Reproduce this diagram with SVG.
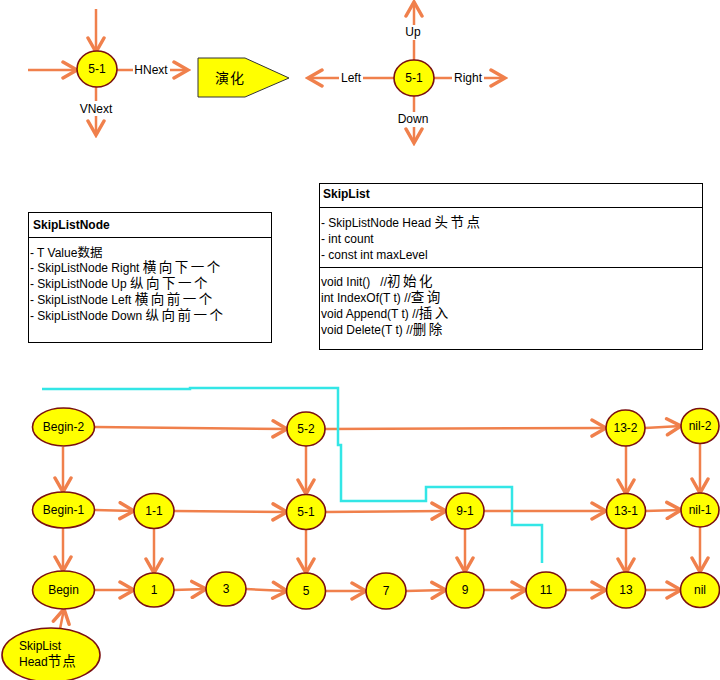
<svg xmlns="http://www.w3.org/2000/svg" width="720" height="680" viewBox="0 0 720 680">
<defs>
<marker id="ah" markerUnits="userSpaceOnUse" markerWidth="20" markerHeight="20" viewBox="0 0 20 20" refX="17" refY="10" orient="auto">
<path d="M3,2 L17,10 L3,18" fill="none" stroke="#F0804C" stroke-width="3.5" stroke-linejoin="miter" stroke-linecap="round"/>
</marker>
</defs>
<style>
.nd{fill:#FFFF00;stroke:#7A1010;stroke-width:1.6}
.t{font-family:"Liberation Sans","Noto Sans CJK SC",sans-serif;font-size:12px;fill:#000}
.c{text-anchor:middle}
.b{font-weight:bold}
.cj{font-size:13.5px;letter-spacing:2.5px}
.ln{fill:none;stroke:#F0804C;stroke-width:2.5;marker-end:url(#ah)}
.bx{fill:#fff;stroke:#000;stroke-width:1}
.lbg{fill:#fff}
</style>
<rect width="720" height="680" fill="#fff"/>

<g id="connectors">
<!-- top-left legend -->
<line class="ln" x1="96" y1="9" x2="96" y2="52"/>
<line class="ln" x1="28" y1="70" x2="77" y2="70"/>
<line class="ln" x1="117" y1="70" x2="188" y2="70"/>
<line class="ln" x1="96" y1="87" x2="96" y2="135"/>
<rect class="lbg" x="133" y="62" width="37" height="15"/>
<text class="t c" x="151" y="74">HNext</text>
<rect class="lbg" x="78" y="101" width="36" height="15"/>
<text class="t c" x="96" y="113">VNext</text>
<!-- top-right legend -->
<line class="ln" x1="394" y1="78" x2="308" y2="78"/>
<line class="ln" x1="434" y1="78" x2="505" y2="78"/>
<line class="ln" x1="414" y1="60" x2="414" y2="2"/>
<line class="ln" x1="414" y1="96" x2="414" y2="143"/>
<rect class="lbg" x="339" y="71" width="24" height="15"/>
<text class="t c" x="351" y="82">Left</text>
<rect class="lbg" x="452" y="71" width="32" height="15"/>
<text class="t c" x="468" y="82">Right</text>
<rect class="lbg" x="403" y="25" width="21" height="15"/>
<text class="t c" x="413" y="36">Up</text>
<rect class="lbg" x="396" y="112" width="35" height="15"/>
<text class="t c" x="413" y="123">Down</text>

<!-- skip list graph -->
<line class="ln" x1="95" y1="427" x2="287" y2="429"/>
<line class="ln" x1="325" y1="429" x2="606" y2="428"/>
<line class="ln" x1="645" y1="428" x2="681" y2="426"/>
<line class="ln" x1="63" y1="447" x2="63" y2="492"/>
<line class="ln" x1="306" y1="446" x2="306" y2="494"/>
<line class="ln" x1="626" y1="446" x2="626" y2="494"/>
<line class="ln" x1="700" y1="444" x2="700" y2="493"/>
<line class="ln" x1="95" y1="510" x2="134" y2="511"/>
<line class="ln" x1="174" y1="511" x2="287" y2="512"/>
<line class="ln" x1="326" y1="512" x2="446" y2="511"/>
<line class="ln" x1="484" y1="511" x2="606" y2="511"/>
<line class="ln" x1="645" y1="511" x2="681" y2="510"/>
<line class="ln" x1="63" y1="528" x2="63" y2="571"/>
<line class="ln" x1="154" y1="528" x2="154" y2="573"/>
<line class="ln" x1="306" y1="529" x2="306" y2="573"/>
<line class="ln" x1="465" y1="529" x2="465" y2="572"/>
<line class="ln" x1="626" y1="529" x2="626" y2="573"/>
<line class="ln" x1="700" y1="527" x2="700" y2="572"/>
<line class="ln" x1="95" y1="590" x2="134" y2="590"/>
<line class="ln" x1="174" y1="590" x2="206" y2="589"/>
<line class="ln" x1="246" y1="589" x2="287" y2="591"/>
<line class="ln" x1="326" y1="591" x2="366" y2="591"/>
<line class="ln" x1="406" y1="591" x2="446" y2="590"/>
<line class="ln" x1="484" y1="590" x2="526" y2="590"/>
<line class="ln" x1="566" y1="590" x2="606" y2="590"/>
<line class="ln" x1="645" y1="590" x2="681" y2="590"/>
<line class="ln" x1="60" y1="629" x2="64" y2="609"/>
<!-- cyan path -->
<polyline points="42,389 190,389 190,388 338,388 338,445 341,445 341,501 426,501 426,487 512,487 512,525 542,525 542,563" fill="none" stroke="#33E6E6" stroke-width="2.5"/>
</g>

<g id="legend-node-1"><ellipse class="nd" cx="97" cy="69" rx="20" ry="18"/><text class="t c" x="97" y="73">5-1</text></g>
<g id="evolve"><polygon points="198,58 245,58 289,78 245,97 198,97" fill="#FFFF00" stroke="#333" stroke-width="1"/><text class="t" x="215" y="83" style="font-size:14px;letter-spacing:1px">演化</text></g>
<g id="legend-node-2"><ellipse class="nd" cx="414" cy="78" rx="20" ry="18"/><text class="t c" x="414" y="82">5-1</text></g>

<g id="class-skiplistnode">
<rect class="bx" x="28.5" y="212.5" width="243" height="130"/>
<line x1="28.5" y1="237.5" x2="271.5" y2="237.5" stroke="#000"/>
<text class="t b" x="33" y="229">SkipListNode</text>
<text class="t" x="30" y="257">- T Value<tspan style="font-size:12.5px">数据</tspan></text>
<text class="t" x="30" y="272">- SkipListNode Right <tspan class="cj">横向下一个</tspan></text>
<text class="t" x="30" y="288">- SkipListNode Up <tspan class="cj">纵向下一个</tspan></text>
<text class="t" x="30" y="304">- SkipListNode Left <tspan class="cj">横向前一个</tspan></text>
<text class="t" x="30" y="320">- SkipListNode Down <tspan class="cj">纵向前一个</tspan></text>
</g>

<g id="class-skiplist">
<rect class="bx" x="319.5" y="183.5" width="383" height="166"/>
<line x1="319.5" y1="207.5" x2="702.5" y2="207.5" stroke="#000"/>
<line x1="319.5" y1="267.5" x2="702.5" y2="267.5" stroke="#000"/>
<text class="t b" x="323" y="198">SkipList</text>
<text class="t" x="321" y="227">- SkipListNode Head <tspan class="cj">头节点</tspan></text>
<text class="t" x="321" y="243">- int count</text>
<text class="t" x="321" y="259">- const int maxLevel</text>
<text class="t" x="321" y="286" xml:space="preserve">void Init()   //<tspan class="cj">初始化</tspan></text>
<text class="t" x="321" y="302">int IndexOf(T t) //<tspan class="cj">查询</tspan></text>
<text class="t" x="321" y="318">void Append(T t) //<tspan class="cj">插入</tspan></text>
<text class="t" x="321" y="334">void Delete(T t) //<tspan class="cj">删除</tspan></text>
</g>

<g id="n-begin-2"><ellipse class="nd" cx="63.5" cy="427" rx="31" ry="19"/><text class="t c" x="63.5" y="431">Begin-2</text></g>
<g id="n-5-2"><ellipse class="nd" cx="306" cy="429" rx="19" ry="17"/><text class="t c" x="306" y="433">5-2</text></g>
<g id="n-13-2"><ellipse class="nd" cx="625.5" cy="428" rx="19.5" ry="18"/><text class="t c" x="625.5" y="432">13-2</text></g>
<g id="n-nil-2"><ellipse class="nd" cx="700" cy="426" rx="19" ry="17.5"/><text class="t c" x="700" y="430">nil-2</text></g>

<g id="n-begin-1"><ellipse class="nd" cx="63.5" cy="510" rx="31" ry="18"/><text class="t c" x="63.5" y="514">Begin-1</text></g>
<g id="n-1-1"><ellipse class="nd" cx="154" cy="511" rx="20" ry="17.5"/><text class="t c" x="154" y="515">1-1</text></g>
<g id="n-5-1"><ellipse class="nd" cx="306" cy="512" rx="19.5" ry="17.5"/><text class="t c" x="306" y="516">5-1</text></g>
<g id="n-9-1"><ellipse class="nd" cx="465" cy="511" rx="19" ry="18"/><text class="t c" x="465" y="515">9-1</text></g>
<g id="n-13-1"><ellipse class="nd" cx="626" cy="511" rx="19.5" ry="17.5"/><text class="t c" x="626" y="515">13-1</text></g>
<g id="n-nil-1"><ellipse class="nd" cx="700" cy="510" rx="19" ry="17"/><text class="t c" x="700" y="514">nil-1</text></g>

<g id="n-begin"><ellipse class="nd" cx="63.5" cy="590" rx="31" ry="19"/><text class="t c" x="63.5" y="594">Begin</text></g>
<g id="n-1"><ellipse class="nd" cx="154" cy="590" rx="20" ry="17"/><text class="t c" x="154" y="594">1</text></g>
<g id="n-3"><ellipse class="nd" cx="226" cy="589" rx="20" ry="17"/><text class="t c" x="226" y="593">3</text></g>
<g id="n-5"><ellipse class="nd" cx="306" cy="591" rx="19.5" ry="18"/><text class="t c" x="306" y="595">5</text></g>
<g id="n-7"><ellipse class="nd" cx="386" cy="591" rx="20" ry="18"/><text class="t c" x="386" y="595">7</text></g>
<g id="n-9"><ellipse class="nd" cx="465" cy="590" rx="19" ry="18"/><text class="t c" x="465" y="594">9</text></g>
<g id="n-11"><ellipse class="nd" cx="546" cy="590" rx="20" ry="18"/><text class="t c" x="546" y="594">11</text></g>
<g id="n-13"><ellipse class="nd" cx="626" cy="590" rx="19.5" ry="18"/><text class="t c" x="626" y="594">13</text></g>
<g id="n-nil"><ellipse class="nd" cx="700" cy="590" rx="19.5" ry="17.5"/><text class="t c" x="700" y="594">nil</text></g>

<g id="n-head"><ellipse class="nd" cx="51" cy="655" rx="49" ry="27"/><text class="t" x="19" y="650">SkipList</text><text class="t" x="19" y="666">Head<tspan class="cj" style="letter-spacing:1px">节点</tspan></text></g>
</svg>
